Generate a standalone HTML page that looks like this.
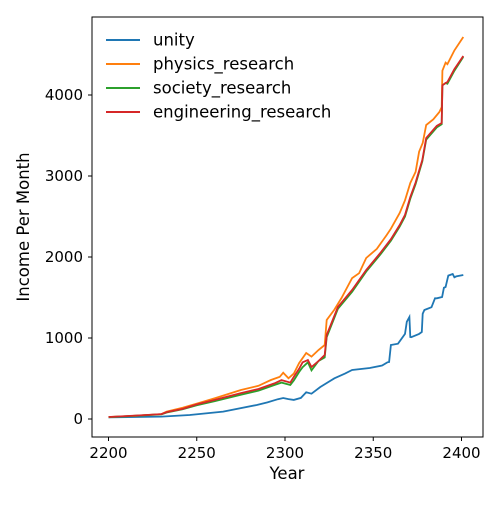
<!DOCTYPE html>
<html><head><meta charset="utf-8"><style>
body{margin:0;background:#fff;}
svg{font-family:"DejaVu Sans","Liberation Sans",sans-serif;}
</style></head><body>
<svg id="chart" width="500" height="500" viewBox="0 0 500 500" xmlns="http://www.w3.org/2000/svg">
<rect x="0" y="0" width="500" height="500" fill="#fff"/>
<g id="marks"></g>
<rect x="92" y="17" width="391" height="420" fill="none" stroke="#000" stroke-width="1"/>
<g id="xticks"></g><g id="yticks"></g>
<text x="287" y="479" font-size="16.5" text-anchor="middle">Year</text>
<text transform="translate(29,227) rotate(-90)" font-size="16.5" text-anchor="middle">Income Per Month</text>
<g id="legend"></g>
</svg>
<script>
const seriesNames=["unity","physics_research","society_research","engineering_research"];
const seriesColors=["#1f77b4","#ff7f0e","#2ca02c","#d62728"];
const unityYears=[2200,2230,2246,2265,2284,2290,2296,2299,2302,2305,2309,2312,2315,2320,2328,2334,2338,2348,2355,2358,2359,2360,2364,2368,2369,2370.5,2371,2371.5,2376,2377.5,2378,2379,2383,2385,2386,2389,2390,2391,2392.5,2395,2396,2397,2401];
const unityValues=[21,30,49,91,173,205,245,259,246,236,260,330,312,395,502,560,605,630,660,700,704,914,930,1050,1200,1259,1012,1010,1050,1074,1300,1346,1380,1490,1490,1506,1620,1630,1770,1790,1750,1760,1778];
const physicsYears=[2200,2215,2230,2233,2242,2250,2260,2275,2285,2292,2297,2299,2302,2305,2308,2312,2315,2319,2322.5,2323.6,2328,2332,2338,2342,2346,2352,2357.6,2360,2365,2368,2371,2374,2376,2378,2380,2384,2387.5,2388.8,2389.2,2391,2392,2396,2401];
const physicsValues=[25,40,60,91,140,190,254,358,410,481,520,572,502,560,690,815,770,852,914,1222,1350,1494,1740,1800,1988,2100,2272,2350,2543,2700,2914,3050,3300,3407,3630,3700,3790,3850,4300,4400,4380,4550,4716];
const societyYears=[2200,2215,2230,2233,2242,2250,2260,2275,2285,2294,2298,2303,2305,2308,2310,2313,2315,2319,2322.5,2323.6,2330,2338,2346,2354,2360,2365,2368,2371,2374,2377.8,2380,2386,2388.8,2389.2,2391,2392,2396,2401];
const societyValues=[22,40,58,80,120,170,220,300,350,420,450,420,475,580,640,700,600,716,760,1010,1360,1570,1820,2030,2200,2375,2500,2720,2900,3180,3450,3600,3640,4120,4148,4140,4300,4470];
const engineeringYears=[2200,2215,2230,2233,2242,2250,2260,2275,2285,2294,2298,2303,2305,2308,2310,2313,2315,2319,2322.5,2323.6,2330,2338,2346,2354,2360,2365,2368,2371,2374,2377.8,2380,2386,2388.8,2389.2,2391,2392,2396,2401];
const engineeringValues=[25,42,60,85,125,180,235,320,370,440,480,450,520,620,700,728,642,716,790,1037,1383,1593,1840,2049,2220,2395,2520,2741,2920,3198,3469,3620,3654,4120,4148,4160,4320,4481];
const xTicks=[2200,2250,2300,2350,2400];
const yTicks=[0,1000,2000,3000,4000];
const xs=v=>108.5+(v-2200)*(461.5-108.5)/200;
const ys=v=>419-v*0.081;
const NS="http://www.w3.org/2000/svg";
const marks=document.getElementById('marks');
const allYears=[unityYears,physicsYears,societyYears,engineeringYears];
const allVals=[unityValues,physicsValues,societyValues,engineeringValues];
for(let s=0;s<4;s++){
  const p=document.createElementNS(NS,'path');
  p.setAttribute('d',allYears[s].map((y,i)=>(i?'L':'M')+xs(y).toFixed(1)+','+ys(allVals[s][i]).toFixed(1)).join(''));
  p.setAttribute('fill','none');p.setAttribute('stroke',seriesColors[s]);p.setAttribute('stroke-width','1.8');
  
  
  marks.appendChild(p);
}
const xt=document.getElementById('xticks');
xTicks.forEach(t=>{
  const l=document.createElementNS(NS,'line');
  l.setAttribute('x1',xs(t));l.setAttribute('x2',xs(t));l.setAttribute('y1',437);l.setAttribute('y2',441);l.setAttribute('stroke','#000');
  
  
  xt.appendChild(l);
  const tx=document.createElementNS(NS,'text');
  tx.setAttribute('x',xs(t));tx.setAttribute('y',458);tx.setAttribute('font-size','15');tx.setAttribute('text-anchor','middle');tx.textContent=t;
  
  
  xt.appendChild(tx);
});
const yt=document.getElementById('yticks');
yTicks.forEach(t=>{
  const l=document.createElementNS(NS,'line');
  l.setAttribute('x1',88);l.setAttribute('x2',92);l.setAttribute('y1',ys(t));l.setAttribute('y2',ys(t));l.setAttribute('stroke','#000');
  
  
  yt.appendChild(l);
  const tx=document.createElementNS(NS,'text');
  tx.setAttribute('x',83);tx.setAttribute('y',ys(t)+5);tx.setAttribute('font-size','15');tx.setAttribute('text-anchor','end');tx.textContent=t;
  
  
  yt.appendChild(tx);
});
const lg=document.getElementById('legend');
seriesNames.forEach((n,i)=>{
  const y=40+i*24;
  const l=document.createElementNS(NS,'line');
  l.setAttribute('x1',106);l.setAttribute('x2',140);l.setAttribute('y1',y);l.setAttribute('y2',y);l.setAttribute('stroke',seriesColors[i]);l.setAttribute('stroke-width','2');
  
  
  lg.appendChild(l);
  const tx=document.createElementNS(NS,'text');
  tx.setAttribute('x',153);tx.setAttribute('y',y+5.5);tx.setAttribute('font-size','16.5');tx.textContent=n;
  
  
  lg.appendChild(tx);
});
</script>
</body></html>
